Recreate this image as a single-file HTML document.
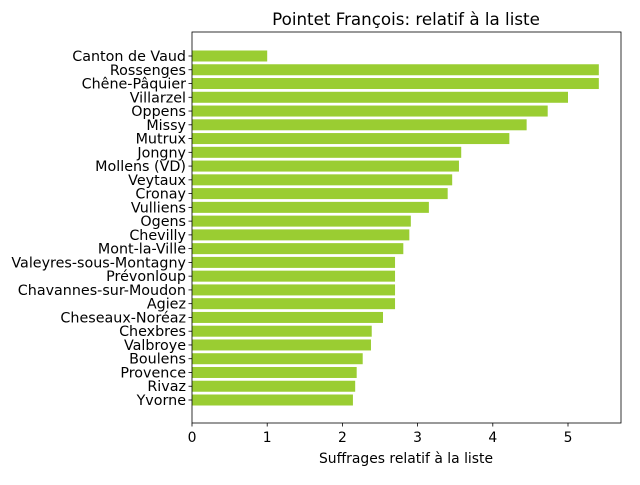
<!DOCTYPE html>
<html><head><meta charset="utf-8"><style>
body{margin:0;background:#fff;font-family:"Liberation Sans","DejaVu Sans",sans-serif;}
</style></head><body>
<svg width="640" height="480" xmlns="http://www.w3.org/2000/svg" id="svg" font-family="DejaVu Sans, Liberation Sans, sans-serif">
<rect width="640" height="480" fill="#fff"/>
<text x="406" y="25" font-size="16.7" text-anchor="middle">Pointet François: relatif à la liste</text>
<g id="bars"></g>
<g id="axes"></g>
<text x="406" y="463" font-size="13.9" text-anchor="middle">Suffrages relatif à la liste</text>
</svg>
<script>
const categories=["Canton de Vaud","Rossenges","Chêne-Pâquier","Villarzel","Oppens","Missy","Mutrux","Jongny","Mollens (VD)","Veytaux","Cronay","Vulliens","Ogens","Chevilly","Mont-la-Ville","Valeyres-sous-Montagny","Prévonloup","Chavannes-sur-Moudon","Agiez","Cheseaux-Noréaz","Chexbres","Valbroye","Boulens","Provence","Rivaz","Yvorne"];
const values=[1.0,5.41,5.41,5.0,4.73,4.45,4.22,3.58,3.55,3.46,3.40,3.15,2.91,2.89,2.81,2.70,2.70,2.70,2.70,2.54,2.39,2.38,2.27,2.19,2.17,2.14];
const xTicks=[0,1,2,3,4,5];
const NS="http://www.w3.org/2000/svg";
const L=192,R=621,T=32,B=423;
const xs=v=>L+v*75.2;
const ys=i=>56+i*13.76;
const bars=document.getElementById('bars'),axes=document.getElementById('axes');
function mk(tag,attrs,parent){const e=document.createElementNS(NS,tag);for(const k in attrs)e.setAttribute(k,attrs[k]);parent.appendChild(e);return e;}
categories.forEach((c,i)=>{
 const r=mk('rect',{x:xs(0),y:ys(i)-5.5,width:xs(values[i])-xs(0),height:11,fill:'#9acd32'},bars);
 
 
 mk('line',{x1:L-3.5,x2:L,y1:ys(i),y2:ys(i),stroke:'#000','stroke-width':0.8},axes);
 const t=mk('text',{x:L-6,y:ys(i)+5,'font-size':14.3,'text-anchor':'end'},axes);
 t.textContent=c;
 
 
});
xTicks.forEach(v=>{
 mk('line',{x1:xs(v),x2:xs(v),y1:B,y2:B+3.5,stroke:'#000','stroke-width':0.8},axes);
 const t=mk('text',{x:xs(v),y:B+19,'font-size':13.9,'text-anchor':'middle'},axes);
 t.textContent=v;
 
 
});
const f=mk('rect',{x:L,y:T,width:R-L,height:B-T,fill:'none',stroke:'#000','stroke-width':0.8},axes);


</script>
</body></html>
